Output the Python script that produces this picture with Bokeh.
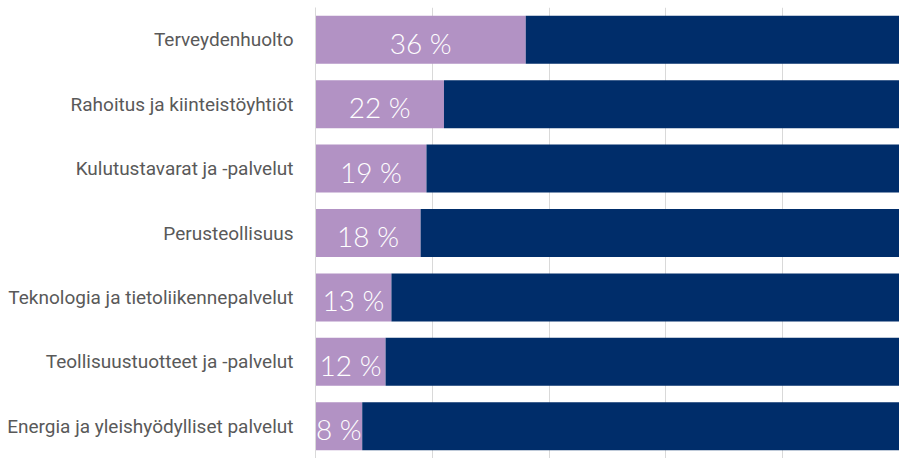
from bokeh.plotting import figure
from bokeh.models import ColumnDataSource, FixedTicker, FactorRange, Range1d
from bokeh.core.properties import value
from bokeh.embed import file_html
from bokeh.resources import INLINE

categories = [
    "Terveydenhuolto",
    "Rahoitus ja kiinteistöyhtiöt",
    "Kulutustavarat ja -palvelut",
    "Perusteollisuus",
    "Teknologia ja tietoliikennepalvelut",
    "Teollisuustuotteet ja -palvelut",
    "Energia ja yleishyödylliset palvelut",
]
shares = [36, 22, 19, 18, 13, 12, 8]
grid_ticks = [0, 20, 40, 60, 80, 100]

PURPLE = "#B292C4"
NAVY = "#002D6A"

rest = [100 - s for s in shares]
src = ColumnDataSource(dict(
    cat=categories,
    share=shares,
    rest=rest,
    mid=[s / 2 for s in shares],
    label=[f"{s} %" for s in shares],
))

p = figure(
    width=899, height=458,
    y_range=FactorRange(*reversed(categories), range_padding=0),
    x_range=Range1d(0, 100),
    output_backend="svg", toolbar_location=None,
)
p.min_border_left = 315
p.min_border_right = 0
p.min_border_top = 7
p.min_border_bottom = 0
p.outline_line_color = None
p.background_fill_color = "white"
p.border_fill_color = "white"

p.hbar_stack(["share", "rest"], y="cat", height=0.745, color=[PURPLE, NAVY],
             line_color=None, source=src)

p.text(x="mid", y="cat", text="label", source=src,
       text_align="center", text_baseline="middle",
       text_color="white", text_font_size="28px",
       text_font=value("Lato Light"), y_offset=3)

p.xaxis.visible = False
p.xgrid.ticker = FixedTicker(ticks=grid_ticks)
p.xgrid.grid_line_color = "#D9D9D9"
p.xgrid.grid_line_width = 1
p.ygrid.grid_line_color = None

yax = p.yaxis[0]
yax.axis_line_color = "#D9D9D9"
yax.major_tick_line_color = None
yax.minor_tick_line_color = None
yax.major_label_standoff = 16
yax.major_label_text_font = "Roboto"
yax.major_label_text_font_size = "19px"
yax.major_label_text_color = "#595959"

open("out.html", "w").write(file_html(p, INLINE))
